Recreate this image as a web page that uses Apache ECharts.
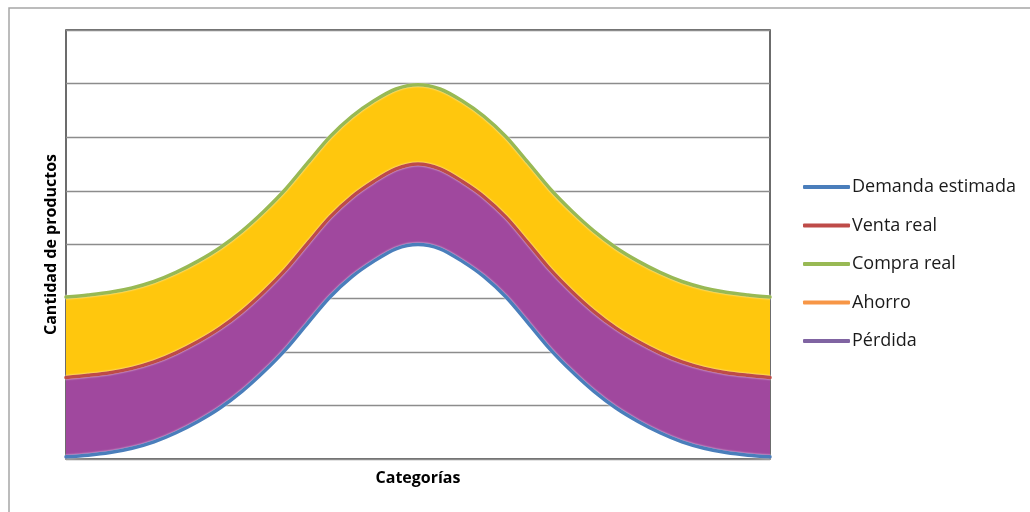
<!DOCTYPE html>
<html>
<head>
<meta charset="utf-8">
<script src="https://cdn.jsdelivr.net/npm/echarts@6/dist/echarts.min.js"></script>
<style>
  html, body { margin: 0; padding: 0; background: #fff; }
  #chart { width: 1030px; height: 512px; }
</style>
</head>
<body>
<div id="chart"></div>
<script>
// ---- data (33 evenly spaced categories) ----
const categories = Array.from({ length: 33 }, (_, i) => String(i + 1));
const demanda = [0.04, 0.07, 0.12, 0.20, 0.32, 0.49, 0.70, 0.95, 1.26, 1.63, 2.05, 2.54, 3.02, 3.40, 3.69, 3.92, 4.00,
                 3.92, 3.69, 3.40, 3.02, 2.54, 2.05, 1.63, 1.26, 0.95, 0.70, 0.49, 0.32, 0.20, 0.12, 0.07, 0.04];
const venta   = [1.52, 1.56, 1.61, 1.69, 1.81, 1.98, 2.19, 2.44, 2.75, 3.12, 3.54, 4.03, 4.51, 4.89, 5.18, 5.41, 5.50,
                 5.41, 5.18, 4.89, 4.51, 4.03, 3.54, 3.12, 2.75, 2.44, 2.19, 1.98, 1.81, 1.69, 1.61, 1.56, 1.52];
const compra  = [3.02, 3.06, 3.11, 3.19, 3.31, 3.48, 3.69, 3.94, 4.25, 4.62, 5.04, 5.53, 6.01, 6.39, 6.68, 6.90, 6.98,
                 6.90, 6.68, 6.39, 6.01, 5.53, 5.04, 4.62, 4.25, 3.94, 3.69, 3.48, 3.31, 3.19, 3.11, 3.06, 3.02];
const yTicks = { min: 0, max: 8, interval: 1 };
const legendNames = ['Demanda estimada', 'Venta real', 'Compra real', 'Ahorro', 'Pérdida'];

// bands for the filled areas (built from the series above)
const perdidaBand = venta.map((v, i) => +(v - demanda[i]).toFixed(3));
const ahorroBand = compra.map((v, i) => +(v - venta[i]).toFixed(3));

const FONT = 'Open Sans';
const SMOOTH = 0.3;
const chart = echarts.init(document.getElementById('chart'), null, { renderer: 'canvas' });

const lineShadow = { shadowColor: 'rgba(255,255,255,0.9)', shadowBlur: 2 };

chart.setOption({
  animation: false,
  backgroundColor: '#fff',
  textStyle: { fontFamily: FONT },
  graphic: [{
    type: 'rect',
    shape: { x: 9, y: 8, width: 1040, height: 530 },
    style: { fill: 'none', stroke: '#a6a6a6', lineWidth: 1.5 },
    silent: true,
    z: -1
  }],
  grid: {
    left: 66, right: 260, top: 30, bottom: 53,
    show: true, borderColor: '#3c3c3c', borderWidth: 1.5, backgroundColor: 'transparent'
  },
  legend: {
    orient: 'vertical',
    left: 798, top: 173,
    itemWidth: 47, itemHeight: 4,
    itemGap: 20.5,
    icon: 'roundRect',
    selectedMode: false,
    textStyle: { fontFamily: FONT, fontSize: 18, color: '#1a1a1a', padding: [0, 0, 0, -3] },
    data: legendNames.map(n => ({ name: n }))
  },
  xAxis: {
    type: 'category',
    data: categories,
    boundaryGap: false,
    axisLine: { show: false },
    axisTick: { show: false },
    axisLabel: { show: false },
    splitLine: { show: false },
    name: 'Categorías',
    nameLocation: 'middle',
    nameGap: 11,
    nameTextStyle: { fontFamily: FONT, fontSize: 16, fontWeight: 'bold', color: '#000', verticalAlign: 'top' }
  },
  yAxis: {
    type: 'value',
    min: yTicks.min, max: yTicks.max, interval: yTicks.interval,
    axisLine: { show: false },
    axisTick: { show: false },
    axisLabel: { show: false },
    splitLine: { show: true, lineStyle: { color: '#8c8c8c', width: 1.3 } },
    name: 'Cantidad de productos',
    nameLocation: 'middle',
    nameGap: 7,
    nameTextStyle: { fontFamily: FONT, fontSize: 16, fontWeight: 'bold', color: '#000' }
  },
  series: [
    {
      name: 'base', type: 'line', stack: 'band', data: demanda, smooth: SMOOTH,
      symbol: 'none', lineStyle: { width: 0, opacity: 0 }, silent: true, z: 1
    },
    {
      name: 'Pérdida', type: 'line', stack: 'band', data: perdidaBand, smooth: SMOOTH,
      symbol: 'none', color: '#8064A2',
      lineStyle: { width: 0, opacity: 0 },
      areaStyle: { color: '#A0489E', opacity: 1 }, silent: true, z: 1
    },
    {
      name: 'Ahorro', type: 'line', stack: 'band', data: ahorroBand, smooth: SMOOTH,
      symbol: 'none', color: '#F79646',
      lineStyle: { width: 0, opacity: 0 },
      areaStyle: { color: '#FFC70D', opacity: 1 }, silent: true, z: 1
    },
    {
      name: 'Demanda estimada', type: 'line', data: demanda, smooth: SMOOTH, symbol: 'none',
      color: '#4A7EBB', lineStyle: Object.assign({ width: 3.5, color: '#4A7EBB', cap: 'round' }, lineShadow), z: 3
    },
    {
      name: 'Venta real', type: 'line', data: venta, smooth: SMOOTH, symbol: 'none',
      color: '#BE4B48', lineStyle: Object.assign({ width: 3.5, color: '#BE4B48', cap: 'round' }, lineShadow), z: 3
    },
    {
      name: 'Compra real', type: 'line', data: compra, smooth: SMOOTH, symbol: 'none',
      color: '#98B954', lineStyle: Object.assign({ width: 3.5, color: '#98B954', cap: 'round' }, lineShadow), z: 3
    }
  ]
});
</script>
</body>
</html>
